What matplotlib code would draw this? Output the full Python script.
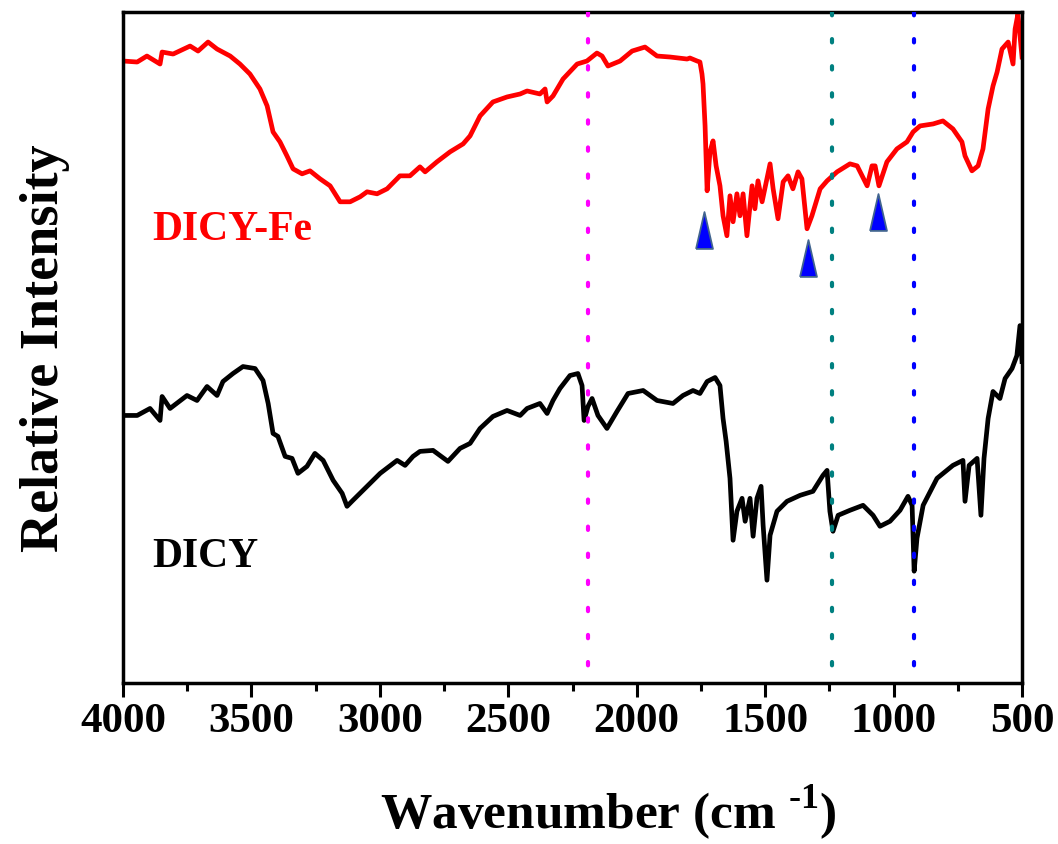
import matplotlib.pyplot as plt
from matplotlib.ticker import MultipleLocator

plt.rcParams['font.family'] = ['Liberation Serif', 'DejaVu Serif']
plt.rcParams['font.weight'] = 'bold'
plt.rcParams['axes.labelweight'] = 'bold'
plt.rcParams['mathtext.fontset'] = 'custom'
plt.rcParams['mathtext.rm'] = 'Liberation Serif:bold'
plt.rcParams['mathtext.bf'] = 'Liberation Serif:bold'

# FTIR spectra, intensity in arbitrary units
wn_fe = [4000, 3945, 3907, 3856, 3848, 3805, 3739, 3708, 3669, 3634, 3583, 3545,
         3506, 3467, 3439, 3416, 3389, 3362, 3338, 3303, 3272, 3233, 3194, 3155,
         3116, 3077, 3050, 3011, 2972, 2922, 2883, 2844, 2824, 2778, 2727, 2676,
         2649, 2610, 2560, 2505, 2454, 2427, 2377, 2357, 2349, 2326, 2287, 2232,
         2194, 2155, 2135, 2112, 2065, 2018, 1968, 1921, 1870, 1804, 1793, 1765,
         1754, 1746, 1742, 1734, 1726, 1715, 1703, 1691, 1676, 1664, 1649, 1637,
         1625, 1610, 1598, 1586, 1571, 1551, 1540, 1528, 1512, 1481, 1469, 1450,
         1430, 1411, 1392, 1372, 1357, 1337, 1318, 1286, 1259, 1220, 1170, 1142,
         1103, 1084, 1072, 1057, 1026, 987, 948, 924, 897, 846, 808, 769,
         734, 722, 695, 671, 652, 632, 613, 597, 578, 554, 535, 527,
         516, 500]
int_fe = [623, 622, 628, 620, 632, 630, 638, 633, 642, 635, 628, 620,
          610, 595, 578, 552, 542, 528, 515, 510, 513, 505, 498, 482,
          482, 487, 492, 490, 495, 508, 508, 517, 512, 522, 532, 540,
          548, 568, 582, 587, 590, 593, 590, 595, 582, 588, 605, 620,
          623, 631, 628, 618, 623, 633, 637, 628, 627, 625, 626, 623,
          622, 610, 600, 558, 493, 532, 543, 518, 498, 468, 448, 488,
          462, 490, 468, 490, 448, 498, 475, 503, 482, 520, 495, 465,
          502, 508, 495, 512, 505, 455, 468, 495, 503, 512, 520, 518,
          498, 518, 518, 498, 522, 535, 542, 552, 558, 560, 563, 555,
          542, 528, 513, 518, 535, 575, 598, 612, 635, 642, 620, 655,
          670, 627]

wn_dicy = [4000, 3945, 3895, 3856, 3848, 3817, 3751, 3712, 3673, 3634, 3611, 3572,
           3533, 3486, 3455, 3435, 3416, 3397, 3369, 3342, 3319, 3284, 3253, 3221,
           3182, 3147, 3128, 3105, 3050, 2999, 2933, 2902, 2871, 2844, 2793, 2735,
           2688, 2649, 2610, 2560, 2505, 2454, 2427, 2377, 2349, 2326, 2299, 2260,
           2229, 2213, 2205, 2190, 2174, 2151, 2116, 2077, 2034, 1975, 1921, 1859,
           1820, 1781, 1754, 1726, 1695, 1676, 1664, 1652, 1637, 1625, 1610, 1590,
           1578, 1559, 1547, 1532, 1516, 1508, 1493, 1481, 1454, 1415, 1364, 1314,
           1275, 1259, 1248, 1236, 1216, 1170, 1119, 1080, 1053, 1014, 975, 944,
           928, 920, 909, 885, 831, 769, 730, 722, 706, 675, 660, 648,
           632, 613, 586, 566, 539, 520, 508, 500]
int_dicy = [268, 268, 275, 263, 287, 275, 288, 283, 297, 288, 302, 310,
            317, 315, 303, 280, 250, 247, 227, 225, 210, 217, 230, 223,
            203, 190, 177, 183, 197, 210, 223, 218, 227, 232, 233, 222,
            235, 240, 255, 267, 273, 268, 275, 280, 270, 283, 295, 308,
            310, 298, 263, 277, 285, 268, 255, 272, 290, 293, 283, 280,
            288, 293, 290, 302, 306, 298, 265, 242, 205, 143, 172, 185,
            162, 185, 147, 185, 197, 158, 103, 148, 172, 182, 188, 192,
            208, 213, 172, 152, 168, 173, 178, 168, 157, 162, 173, 187,
            178, 112, 145, 178, 205, 218, 223, 182, 218, 225, 168, 225,
            265, 292, 285, 305, 315, 328, 358, 322]

# marked bands (dotted guides) and DICY-Fe peaks (arrows)
band_wn = [2190, 1240, 920]
band_colors = ['#ff00ff', '#008080', '#0000ff']
peak_wn = [1738, 1333, 1061]
peak_y = [454, 426, 472]

fig = plt.figure(figsize=(10.58, 8.45), dpi=100)
ax = fig.add_axes([0.1163, 0.1905, 0.8497, 0.794])

ax.plot(wn_fe, int_fe, color='#ff0000', lw=3.4, zorder=2)
ax.plot(wn_dicy, int_dicy, color='black', lw=3.4, zorder=2)

for w, c in zip(band_wn, band_colors):
    ax.vlines(w, 672, 0, colors=c, lw=3, linestyles=(0, (0.8, 5.7)),
              capstyle='round', zorder=3)

tri = [(-0.23, -0.5), (0.23, -0.5), (0.0, 0.5), (-0.23, -0.5)]
ax.plot(peak_wn, peak_y, linestyle='none', marker=tri, markersize=26.5,
        mfc='#0000ff', mec='#41648f', mew=1.3, zorder=4)

ax.text(3887, 445, 'DICY-Fe', color='#ff0000', fontsize=30, va='baseline')
ax.text(3887, 117, 'DICY', color='black', fontsize=30, va='baseline')

ax.set_xlim(4000, 500)
ax.set_ylim(0, 672)
ax.xaxis.set_major_locator(MultipleLocator(500))
ax.xaxis.set_minor_locator(MultipleLocator(250))
ax.set_yticks([])
ax.tick_params(axis='x', which='major', direction='out', length=10, width=2.2,
               labelsize=31, pad=4)
ax.tick_params(axis='x', which='minor', direction='out', length=6, width=2.2)
for s in ax.spines.values():
    s.set_linewidth(2.5)

ax.set_xlabel(r'Wavenumber (cm $^{\text{-1}}$)', fontsize=37)
ax.xaxis.set_label_coords(0.54, -0.148)
ax.set_ylabel('Relative Intensity', fontsize=39, labelpad=38)

fig.savefig('out.png', dpi=100)
